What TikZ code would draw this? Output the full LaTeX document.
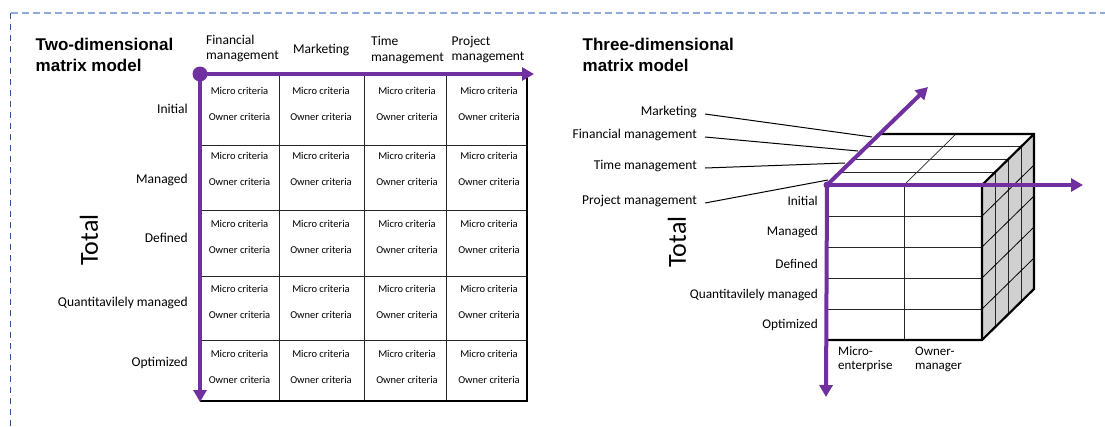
\documentclass[tikz,border=0pt]{standalone}
\usepackage{fontspec}
\setmainfont{Carlito}
\newfontfamily\titlefont{Liberation Sans}
\usetikzlibrary{arrows.meta,positioning}

\definecolor{axispurple}{HTML}{7030A0}
\definecolor{framelight}{HTML}{8FAADC}
\definecolor{framedark}{HTML}{2F5597}
\definecolor{sidegray}{HTML}{D0D0D0}

\tikzset{
	heading/.style={font=\titlefont\bfseries\fontsize{17}{21}\selectfont,align=left,anchor=west,inner sep=0pt},
	cell/.style={font=\fontsize{10.5}{12}\selectfont,inner sep=0pt},
	level/.style={font=\fontsize{13.5}{15.3}\selectfont,anchor=east,inner sep=0pt},
	colhead/.style={font=\fontsize{13.5}{15.3}\selectfont,align=left,anchor=west,inner sep=0pt},
	total/.style={font=\fontsize{26}{26}\selectfont,rotate=90,inner sep=0pt},
	gridline/.style={black!85,line width=0.9pt},
	edge/.style={black,line width=2.6pt},
	axis/.style={axispurple,line width=4pt,-{Triangle[length=12pt,width=13pt]}},
	leader/.style={black,line width=1pt}
}

\begin{document}
\begin{tikzpicture}[x=1pt,y=-1pt]
	\useasboundingbox (0,0) rectangle (1105,426);

	% frame
	\draw[framelight,line width=1.3pt,dash pattern=on 7pt off 4pt] (10.5,13) -- (1105,13);
	\draw[framedark,line width=1.3pt,dash pattern=on 6pt off 5pt] (10.5,13) -- (10.5,426);

	% two-dimensional model
	\node[heading] (title2) at (35.5,54.5) {Two-dimensional\\matrix model};

	\foreach \y in {145,210.7,276.7,340}
		\draw[gridline] (200,\y) -- (527,\y);
	\foreach \x in {279,364,446}
		\draw[gridline] (\x,74) -- (\x,401);
	\draw[edge] (527,76) -- (527,401) -- (200,401);

	\foreach \r/\ym/\yo in {1/91/117,2/156/182,3/224/250,4/289/315,5/354/380}
		\foreach \c/\x in {1/239.5,2/321,3/407,4/489}
		{
			\node[cell] (micro-\r-\c) at (\x,\ym) {Micro criteria};
			\node[cell] (owner-\r-\c) at (\x,\yo) {Owner criteria};
		}

	\foreach \n/\t/\y in {initial/Initial/109,managed/Managed/180,defined/Defined/238,quant/Quantitavilely managed/303,optimized/Optimized/362.5}
		\node[level] (\n-2) at (188,\y) {\t};

	\node[colhead] (fin-2) at (206,48.5) {Financial\\management};
	\node[colhead] (mkt-2) at (293,50) {Marketing};
	\node[colhead] (time-2) at (371,50) {Time\\management};
	\node[colhead] (proj-2) at (451.5,49.5) {Project\\management};

	\node[total] (total-2) at (89,240) {Total};

	\coordinate (o2) at (200,74);
	\coordinate (x2) at (534,74);
	\coordinate (y2) at (200,402);
	\draw[axis] (o2) -- (x2);
	\draw[axis] (o2) -- (y2);
	\fill[axispurple] (o2) circle (7.5pt);

	% three-dimensional model
	\node[heading] (title3) at (582.5,55) {Three-dimensional\\matrix model};

	% top face
	\fill[white] (827,185) -- (879,134) -- (1034,134) -- (982,185) -- cycle;
	\foreach \k in {1,2,3}
		\draw[gridline] (827+13*\k,185-12.75*\k) -- (982+13*\k,185-12.75*\k);
	\draw[gridline,line width=0.7pt] (904,185) -- (956,134);

	% side face
	\fill[sidegray] (982,185) -- (1034,134) -- (1034,289) -- (982,340) -- cycle;
	\foreach \k in {1,2,3}
		\draw[gridline] (982+13*\k,185-12.75*\k) -- (982+13*\k,340-12.75*\k);
	\foreach \j in {1,...,4}
		\draw[black,line width=0.8pt] (982,185+31*\j) -- (1034,134+31*\j);

	% front face
	\foreach \j in {1,...,4}
		\draw[gridline] (827,185+31*\j) -- (982,185+31*\j);
	\draw[gridline] (904,185) -- (904,340);
	\draw[edge,line width=2.2pt] (879,134) -- (1034,134) -- (1034,289) -- (982,340) -- (827,340);
	\draw[edge,line width=2.2pt] (982,340) -- (982,185) -- (1034,134);

	\foreach \n/\t/\y in {initial/Initial/201,managed/Managed/232,defined/Defined/263.5,quant/Quantitavilely managed/295,optimized/Optimized/325}
		\node[level,font=\fontsize{13.3}{15}\selectfont] (\n-3) at (818,\y) {\t};

	\node[colhead,font=\fontsize{13}{14}\selectfont] (micro-3) at (838,359) {Micro-\\enterprise};
	\node[colhead,font=\fontsize{13}{14}\selectfont] (owner-3) at (915,359) {Owner-\\manager};

	\node[level] (mkt-3) at (697,112) {Marketing};
	\node[level] (fin-3) at (697,135) {Financial management};
	\node[level] (time-3) at (697,166) {Time management};
	\node[level] (proj-3) at (697,201) {Project management};

	\coordinate (mkt-end) at (872,137);
	\coordinate (fin-end) at (858,151);
	\coordinate (time-end) at (845,163);
	\coordinate (proj-end) at (828,180);
	\foreach \n in {mkt,fin,time,proj}
		\draw[leader] ([xshift=8pt,yshift=-2pt]\n-3.east) -- (\n-end);

	\node[total] (total-3) at (677,242) {Total};

	\coordinate (o3) at (827,185);
	\coordinate (x3) at (1083,185);
	\coordinate (y3) at (826,397);
	\coordinate (z3) at (928,87);
	\draw[axis] (o3) -- (x3);
	\draw[axis] (o3) -- (z3);
	\draw[axis] (o3) -- (y3);
	\fill[axispurple] (o3) circle (3.5pt);
\end{tikzpicture}
\end{document}
